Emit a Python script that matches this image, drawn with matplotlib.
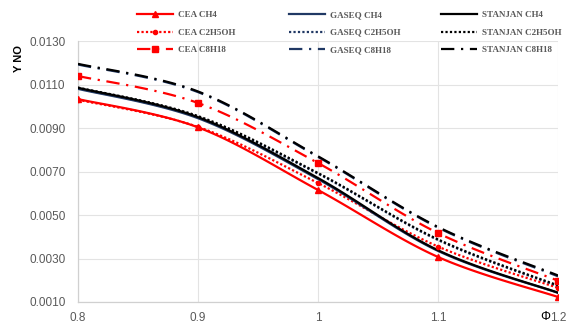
import numpy as np
import matplotlib
matplotlib.use("Agg")
import matplotlib.pyplot as plt
from matplotlib.lines import Line2D

# ---- data ----
phi = [0.8, 0.9, 1.0, 1.1, 1.2]
cea_ch4 = [0.01033, 0.00903, 0.00615, 0.00307, 0.00123]
cea_c2h5oh = [0.01030, 0.00905, 0.00647, 0.00355, 0.00165]
cea_c8h18 = [0.01139, 0.01015, 0.00739, 0.00417, 0.00198]
gaseq_ch4 = [0.01080, 0.00945, 0.00665, 0.00335, 0.00142]
gaseq_c2h5oh = [0.01083, 0.00950, 0.00690, 0.00385, 0.00173]
gaseq_c8h18 = [0.01192, 0.01065, 0.00767, 0.00442, 0.00218]
stanjan_ch4 = [0.01085, 0.00950, 0.00670, 0.00338, 0.00143]
stanjan_c2h5oh = [0.01086, 0.00955, 0.00693, 0.00388, 0.00176]
stanjan_c8h18 = [0.01195, 0.01068, 0.00770, 0.00445, 0.00222]
yticks = [0.0010, 0.0030, 0.0050, 0.0070, 0.0090, 0.0110, 0.0130]
xticks = [0.8, 0.9, 1.0, 1.1, 1.2]
xticklabels = ["0.8", "0.9", "1", "1.1", "1.2"]


def smooth(x, y, n=30):
    """Excel-like smoothed line (Catmull-Rom Bezier)."""
    x = np.asarray(x, float); y = np.asarray(y, float)
    P = np.column_stack([x, y])
    out = []
    for i in range(len(P) - 1):
        p0 = P[i - 1] if i > 0 else P[i]
        p1 = P[i]; p2 = P[i + 1]
        p3 = P[i + 2] if i + 2 < len(P) else P[i + 1]
        c1 = p1 + (p2 - p0) / 6.0
        c2 = p2 - (p3 - p1) / 6.0
        t = np.linspace(0, 1, n)[:, None]
        seg = ((1 - t) ** 3) * p1 + 3 * ((1 - t) ** 2) * t * c1 + 3 * (1 - t) * t ** 2 * c2 + t ** 3 * p2
        out.append(seg if i == 0 else seg[1:])
    s = np.vstack(out)
    return s[:, 0], s[:, 1]


fig = plt.figure(figsize=(5.67, 3.23), dpi=100)
ax = fig.add_axes([78 / 567, 1 - 302 / 323, (558 - 78) / 567, (302 - 41) / 323])

RED = "#FF0000"
NAVY = "#203864"
BLACK = "#000000"
dashdot = (0, (6, 3, 1, 3))
dotted = (0, (1, 1))
lw = 1.6

series = [
    ("CEA CH4", cea_ch4, RED, "-", "^"),
    ("CEA C2H5OH", cea_c2h5oh, RED, dotted, "o"),
    ("CEA C8H18", cea_c8h18, RED, dashdot, "s"),
    ("GASEQ CH4", gaseq_ch4, NAVY, "-", None),
    ("GASEQ C2H5OH", gaseq_c2h5oh, NAVY, dotted, None),
    ("GASEQ C8H18", gaseq_c8h18, NAVY, dashdot, None),
    ("STANJAN CH4", stanjan_ch4, BLACK, "-", None),
    ("STANJAN C2H5OH", stanjan_c2h5oh, BLACK, dotted, None),
    ("STANJAN C8H18", stanjan_c8h18, BLACK, dashdot, None),
]

handles = []
for name, ys, col, ls, mk in series:
    sx, sy = smooth(phi, ys)
    ax.plot(sx, sy, color=col, ls=ls, lw=lw, zorder=3)
    if mk is not None:
        ms = 4.5 if mk != "o" else 3
        ax.plot(phi, ys, ls="none", marker=mk, color=col, ms=ms, zorder=4)
    handles.append(Line2D([], [], color=col, ls=ls, lw=lw, marker=mk,
                          ms=(4.5 if mk != "o" else 3) if mk else 0))

ax.set_xlim(0.8, 1.2)
ax.set_ylim(0.0010, 0.0130)
ax.set_yticks(yticks)
ax.set_yticklabels([f"{v:.4f}" for v in yticks])
ax.set_xticks(xticks)
ax.set_xticklabels(xticklabels)
ax.grid(True, color="#E3E3E3", lw=0.8, zorder=0)
for s in ["top", "right"]:
    ax.spines[s].set_visible(False)
for s in ["left", "bottom"]:
    ax.spines[s].set_color("#D0D0D0")
    ax.spines[s].set_linewidth(0.9)
ax.tick_params(length=0, labelsize=8.5, labelcolor="#595959")
ax.tick_params(axis="y", pad=9)
ax.tick_params(axis="x", pad=7)
for lab in ax.get_xticklabels() + ax.get_yticklabels():
    lab.set_fontfamily("Liberation Sans")

fig.text(19 / 567, 1 - 58 / 323, "Y NO", rotation=90, ha="center", va="center",
         fontsize=8, fontweight="bold", family="Liberation Sans")
fig.text(550 / 567, 1 - 317 / 323, "Φ", ha="right", va="center",
         fontsize=9, family="Liberation Sans", color="black")

col_x = [137, 289, 441]
for c in range(3):
    leg = fig.legend(handles[3 * c:3 * c + 3], [s[0] for s in series[3 * c:3 * c + 3]],
                     loc="upper left", bbox_to_anchor=(col_x[c] / 567, 1 - 11 / 323),
                     frameon=False, borderpad=0, borderaxespad=0,
                     handlelength=4.0, handletextpad=0.5, labelspacing=1.0,
                     prop={"family": "Liberation Serif", "weight": "bold", "size": 6.5},
                     labelcolor="#595959")

fig.savefig("out.png", dpi=100)
